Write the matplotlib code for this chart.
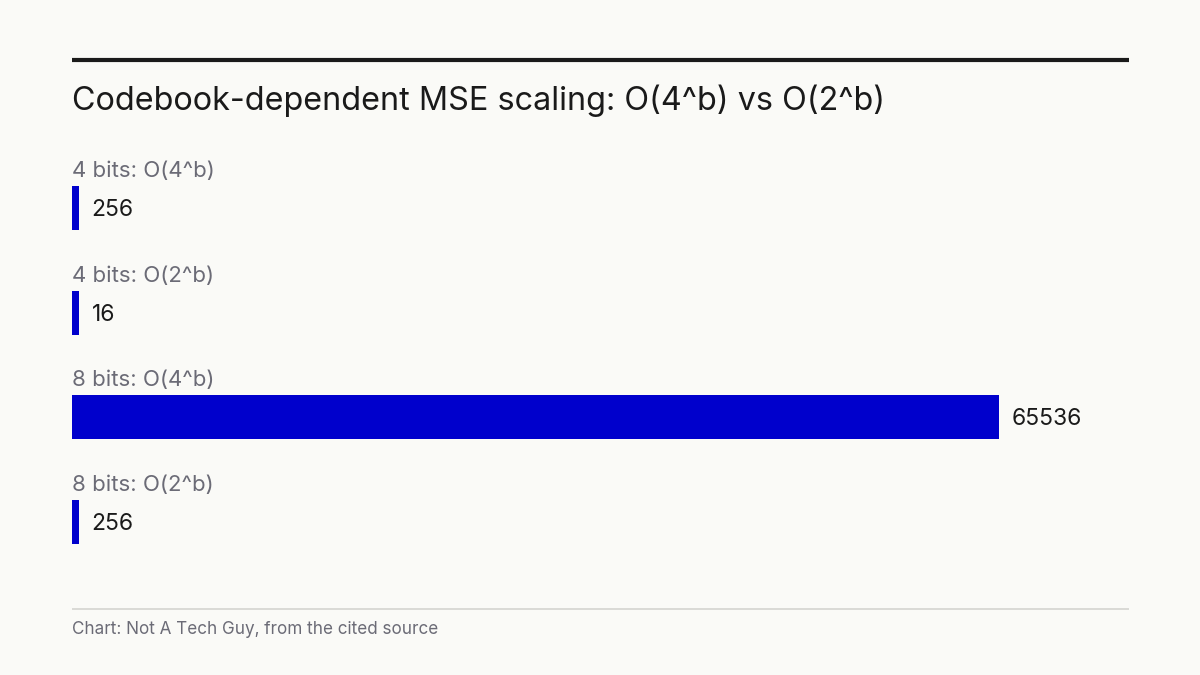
import matplotlib.pyplot as plt
from matplotlib.lines import Line2D

# chart data
labels = ["4 bits: O(4^b)", "4 bits: O(2^b)", "8 bits: O(4^b)", "8 bits: O(2^b)"]
values = [256, 16, 65536, 256]

title = "Codebook-dependent MSE scaling: O(4^b) vs O(2^b)"
footer = "Chart: Not A Tech Guy, from the cited source"

BG = "#fafaf7"
BAR = "#0000cc"
DARK = "#1a1a1a"
GREY = "#6b6b76"

plt.rcParams['font.family'] = ['Inter', 'DejaVu Sans']


def main():
    W, H = 1200, 675
    fig = plt.figure(figsize=(12, 6.75), dpi=100, facecolor=BG)

    # axes: x from 72 to 1129 px, y from 145 to 565 px
    left, right = 72, 1129
    top, bottom = 145, 565
    ax = fig.add_axes([left / W, 1 - bottom / H, (right - left) / W, (bottom - top) / H])
    ax.set_facecolor(BG)
    for s in ax.spines.values():
        s.set_visible(False)
    ax.set_xticks([])
    ax.set_yticks([])

    vmax = max(values)
    # largest bar ends at x=999 px
    ax.set_xlim(0, vmax * (right - left) / (999 - left))
    step = 104.7
    ax.set_ylim((bottom - 208) / step, (top - 208) / step)

    min_w = vmax * 7 / (999 - left)  # keep tiny bars visible
    for i, (lab, v) in enumerate(zip(labels, values)):
        w = max(v, min_w)
        ax.barh(i, w, height=44 / step, color=BAR, left=0)
        ax.text(0, i - 0.355, lab, ha='left', va='center', fontsize=16, color=GREY)
        ax.annotate(str(v), xy=(w, i), xytext=(9, -1.5), textcoords='offset points',
                    ha='left', va='center', fontsize=16.5, color=DARK)

    # top rule
    fig.add_artist(Line2D([left / W, right / W], [1 - 60 / H, 1 - 60 / H],
                          color=DARK, linewidth=3, solid_capstyle='butt'))
    fig.text(left / W, 1 - 101 / H, title, ha='left', va='center', fontsize=23.3, color=DARK)

    # footer rule and note
    fig.add_artist(Line2D([left / W, right / W], [1 - 609 / H, 1 - 609 / H],
                          color="#d4d4d0", linewidth=1.2, solid_capstyle='butt'))
    fig.text(left / W, 1 - 629 / H, footer, ha='left', va='center', fontsize=12.3, color=GREY)

    fig.savefig('out.png', dpi=100, facecolor=BG)
    plt.close(fig)


if __name__ == "__main__":
    main()
